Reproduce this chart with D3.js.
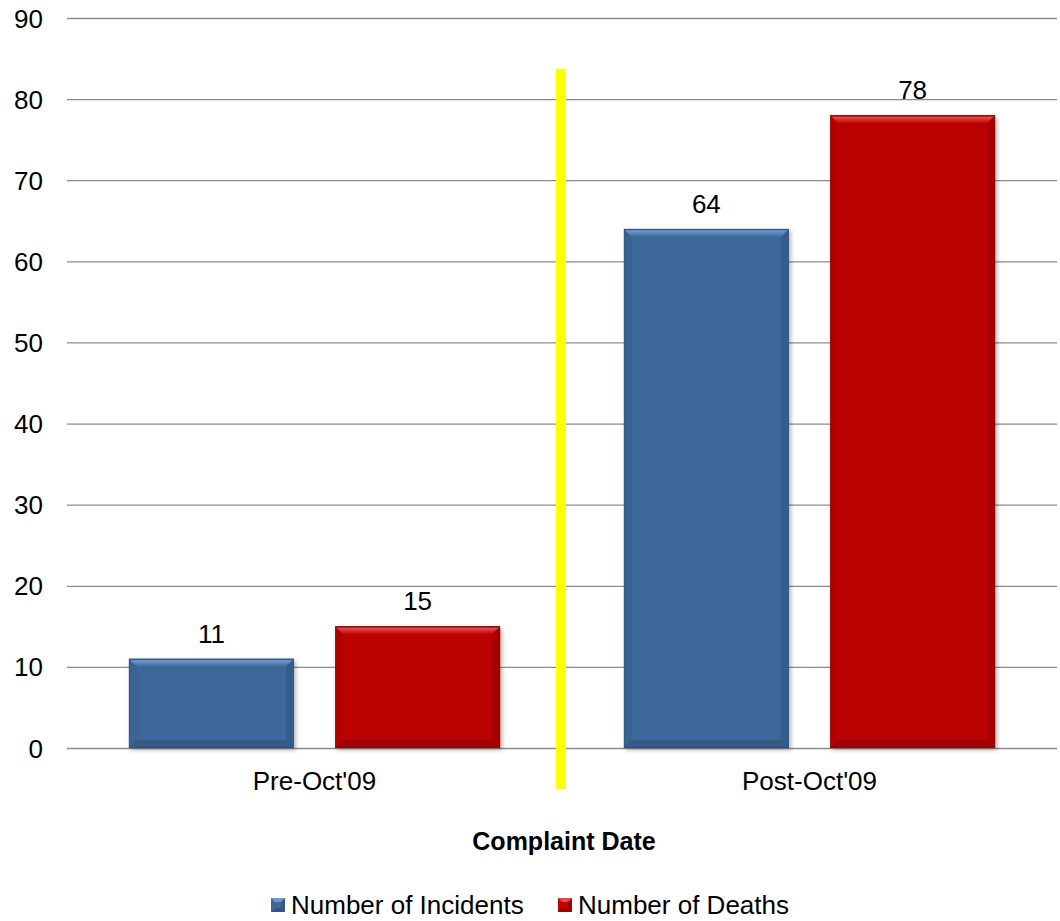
<!DOCTYPE html>
<html>
<head>
<meta charset="utf-8">
<script src="https://cdn.jsdelivr.net/npm/d3@7"></script>
<style>
  html, body { margin: 0; padding: 0; background: #fff; }
  svg { display: block; font-family: "Liberation Sans", Arial, sans-serif; }
</style>
</head>
<body>
<svg id="chart" width="1060" height="921"></svg>
<script>
// Complaint periods and the two counted series
const categories = ["Pre-Oct'09", "Post-Oct'09"];
const seriesNames = ["Number of Incidents", "Number of Deaths"];
const incidents = [11, 64];
const deaths = [15, 78];
const yTicks = [0, 10, 20, 30, 40, 50, 60, 70, 80, 90];
const xTitle = "Complaint Date";

const colors = ["#3d6899", "#bb0606"];
const lightEdge = ["#6f98cc", "#e84848"];
const darkEdge = ["#2a4a70", "#800000"];
const FONT = 26;

const svg = d3.select("#chart");
const plot = { left: 67, right: 1057, top: 18, bottom: 748 };

const x0 = d3.scaleBand().domain(categories).range([plot.left, plot.right]);
const x1 = d3.scaleBand().domain(seriesNames).range([0, x0.bandwidth()]).paddingInner(0.2).paddingOuter(0.3);
const y = d3.scaleLinear().domain([0, 90]).range([plot.bottom, plot.top]);

// Horizontal gridlines
svg.append("g")
  .selectAll("line").data(yTicks).join("line")
  .attr("x1", plot.left).attr("x2", plot.right)
  .attr("y1", d => y(d) + 0.5).attr("y2", d => y(d) + 0.5)
  .attr("stroke", "#8c8c8c").attr("stroke-width", 1.3);

// Y axis labels
const yAxis = d3.axisLeft(y).tickValues(yTicks).tickSize(0).tickPadding(0);
const gy = svg.append("g").attr("transform", `translate(${plot.left - 24},0)`).call(yAxis);
gy.select(".domain").remove();
gy.selectAll("text").attr("font-size", FONT).attr("fill", "#000")
  .attr("font-family", "Liberation Sans, Arial, sans-serif").attr("dy", "0.35em");

// Category labels
const xAxis = d3.axisBottom(x0).tickSize(0).tickPadding(0);
const gx = svg.append("g").attr("transform", `translate(0,${plot.bottom + 24})`).call(xAxis);
gx.select(".domain").remove();
gx.selectAll("text").attr("font-size", FONT).attr("fill", "#000")
  .attr("font-family", "Liberation Sans, Arial, sans-serif").attr("dy", "0.71em");

svg.append("text").attr("x", 564).attr("y", 850)
  .attr("text-anchor", "middle").attr("font-size", FONT - 1).attr("font-weight", "bold").text(xTitle);

// Bars with bevelled edges
const defs = svg.append("defs");
const shadow = defs.append("filter").attr("id", "shadow").attr("x", "-10%").attr("y", "-10%").attr("width", "130%").attr("height", "130%");
shadow.append("feDropShadow").attr("dx", 2).attr("dy", 2).attr("stdDeviation", 2).attr("flood-color", "#000").attr("flood-opacity", 0.3);

const topGrad = ["blueTop", "redTop"];
topGrad.forEach((id, i) => {
  const g = defs.append("linearGradient").attr("id", id).attr("x1", 0).attr("y1", 0).attr("x2", 0).attr("y2", 1);
  g.append("stop").attr("offset", "0%").attr("stop-color", darkEdge[i]);
  g.append("stop").attr("offset", "25%").attr("stop-color", lightEdge[i]);
  g.append("stop").attr("offset", "100%").attr("stop-color", colors[i]);
});

const rows = [];
categories.forEach((c, i) => {
  rows.push({ cat: c, s: 0, v: incidents[i] });
  rows.push({ cat: c, s: 1, v: deaths[i] });
});

const bars = svg.append("g").selectAll("g").data(rows).join("g");
bars.each(function (d) {
  const g = d3.select(this);
  const bx = x0(d.cat) + x1(seriesNames[d.s]);
  const bw = x1.bandwidth();
  const by = y(d.v);
  const bh = y(0) - by;
  const b = Math.min(8, bh / 2);
  g.append("rect").attr("x", bx).attr("y", by).attr("width", bw).attr("height", bh)
    .attr("fill", colors[d.s]).attr("filter", "url(#shadow)");
  // top bevel
  g.append("polygon").attr("points", [[bx, by], [bx + bw, by], [bx + bw - b, by + b], [bx + b, by + b]].join(" "))
    .attr("fill", `url(#${topGrad[d.s]})`);
  // right bevel
  g.append("polygon").attr("points", [[bx + bw, by], [bx + bw, by + bh], [bx + bw - b, by + bh - b], [bx + bw - b, by + b]].join(" "))
    .attr("fill", darkEdge[d.s]).attr("opacity", 0.35);
  // left bevel
  g.append("polygon").attr("points", [[bx, by], [bx + b, by + b], [bx + b, by + bh - b], [bx, by + bh]].join(" "))
    .attr("fill", darkEdge[d.s]).attr("opacity", 0.15);
  // bottom bevel
  g.append("polygon").attr("points", [[bx, by + bh], [bx + bw, by + bh], [bx + bw - b, by + bh - b], [bx + b, by + bh - b]].join(" "))
    .attr("fill", darkEdge[d.s]).attr("opacity", 0.45);
  g.append("rect").attr("x", bx + 0.5).attr("y", by + 0.5).attr("width", bw - 1).attr("height", bh - 1)
    .attr("fill", "none").attr("stroke", darkEdge[d.s]).attr("stroke-opacity", 0.45);
  // value label
  g.append("text").attr("x", bx + bw / 2).attr("y", by - 16)
    .attr("text-anchor", "middle").attr("font-size", FONT).attr("fill", "#000").text(d.v);
});

// Divider between the two periods
svg.append("rect").attr("x", 556).attr("y", 69).attr("width", 10).attr("height", 720).attr("fill", "#ffff00");

// Legend
const legend = svg.append("g");
const legendItems = [{ name: seriesNames[0], x: 271 }, { name: seriesNames[1], x: 558 }];
legendItems.forEach((it, i) => {
  const g = legend.append("g").attr("transform", `translate(${it.x},898)`);
  g.append("rect").attr("width", 14).attr("height", 14).attr("fill", colors[i]);
  g.append("polygon").attr("points", "0,0 14,0 10,4 4,4").attr("fill", lightEdge[i]);
  g.append("polygon").attr("points", "0,14 14,14 10,10 4,10").attr("fill", darkEdge[i]).attr("opacity", 0.6);
  g.append("polygon").attr("points", "14,0 14,14 10,10 10,4").attr("fill", darkEdge[i]).attr("opacity", 0.4);
  g.append("text").attr("x", 20).attr("y", 16).attr("font-size", FONT).attr("fill", "#000").text(it.name);
});
</script>
</body>
</html>
